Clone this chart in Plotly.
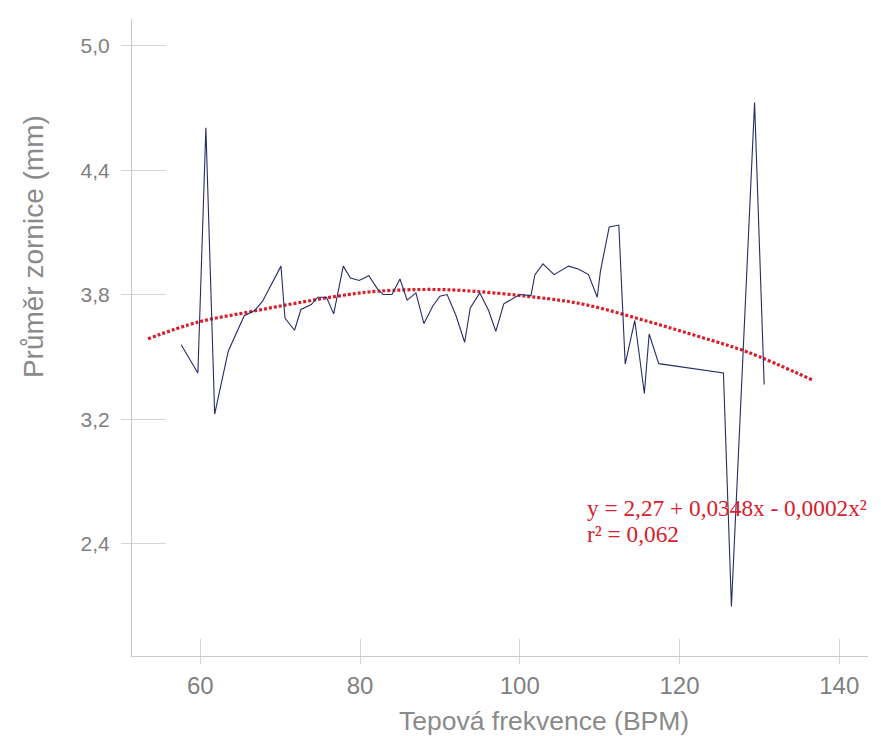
import plotly.graph_objects as go

# Heart rate (BPM) and mean pupil diameter (mm)
bpm = [57.6, 59.7, 60.7, 61.8, 63.5, 65.5, 66.8, 67.8, 70.1, 70.6, 71.8, 72.6, 73.9, 74.7,
       75.8, 76.7, 77.9, 78.8, 79.9, 81.1, 82.2, 82.9, 84.0, 85.0, 85.9, 87.0, 88.0, 89.1,
       90.0, 90.9, 92.0, 93.1, 93.8, 95.0, 96.1, 97.0, 98.0, 98.9, 100.0, 101.4, 101.9,
       102.9, 104.3, 106.1, 107.4, 108.6, 109.7, 110.1, 111.2, 112.4, 113.2, 114.4, 115.6,
       116.2, 117.4, 125.5, 126.5, 129.4, 130.6]
pupil = [3.560, 3.424, 4.606, 3.226, 3.529, 3.700, 3.725, 3.770, 3.939, 3.689, 3.630, 3.730,
         3.754, 3.789, 3.789, 3.709, 3.939, 3.882, 3.870, 3.893, 3.828, 3.802, 3.802, 3.877,
         3.775, 3.810, 3.662, 3.746, 3.794, 3.802, 3.702, 3.572, 3.738, 3.810, 3.725, 3.625,
         3.757, 3.778, 3.802, 3.797, 3.898, 3.950, 3.898, 3.939, 3.924, 3.898, 3.789, 3.915,
         4.128, 4.137, 3.467, 3.677, 3.325, 3.612, 3.469, 3.424, 2.299, 4.727, 3.368]

# Quadratic trend line
trend_x = [53.45, 59.7, 66.0, 72.2, 78.5, 82.2, 91.0, 103.5, 108.5, 116.0, 122.3, 128.5, 136.7]
trend_y = [3.589, 3.669, 3.717, 3.762, 3.802, 3.818, 3.825, 3.782, 3.751, 3.673, 3.601, 3.525, 3.389]

x_ticks = [60, 80, 100, 120, 140]
x_ticktext = ["60", "80", "100", "120", "140"]
y_ticks = [5.0, 4.4, 3.8, 3.2, 2.6]
y_ticktext = ["5,0", "4,4", "3,8", "3,2", "2,4"]

x_title = "Tepová frekvence (BPM)"
y_title = "Průměr zornice (mm)"
eq_line1 = "y = 2,27 + 0,0348x - 0,0002x²"
eq_line2 = "r² = 0,062"

x_range = [51.45, 143.6]
y_range = [2.06, 5.13]

AX = "#c9c9c9"
TICK = "#d6d6d6"
LBL = "#808080"
SANS = "Liberation Sans, Arial, sans-serif"
SERIF = "Liberation Serif, Times New Roman, serif"
RED = "#d8202b"

fig = go.Figure()
fig.add_trace(go.Scatter(x=trend_x, y=trend_y, mode="lines",
                         line=dict(color=RED, width=3.2, dash="3px,2px", shape="spline", smoothing=1.0),
                         showlegend=False, hoverinfo="skip"))
fig.add_trace(go.Scatter(x=bpm, y=pupil, mode="lines",
                         line=dict(color="#272b68", width=1.1),
                         showlegend=False))
# invisible trace on overlay axes (for the outer part of the crossing ticks)
fig.add_trace(go.Scatter(x=[None], y=[None], xaxis="x2", yaxis="y2",
                         showlegend=False, hoverinfo="skip"))

fig.update_layout(
    width=881, height=736,
    margin=dict(l=124, r=21, t=11, b=88),
    paper_bgcolor="white", plot_bgcolor="white",
    xaxis=dict(range=x_range, tickvals=x_ticks, ticktext=x_ticktext,
               showgrid=False, zeroline=False, showline=True, linecolor=AX, linewidth=1,
               ticks="inside", ticklen=17, tickcolor=TICK, tickwidth=1,
               tickfont=dict(family=SANS, size=24, color=LBL), ticklabelstandoff=8),
    yaxis=dict(range=y_range, tickvals=y_ticks, ticktext=y_ticktext,
               showgrid=False, zeroline=False, showline=True, linecolor=AX, linewidth=1,
               ticks="inside", ticklen=34, tickcolor=TICK, tickwidth=1,
               tickfont=dict(family=SANS, size=21, color=LBL), ticklabelstandoff=17),
    xaxis2=dict(range=x_range, overlaying="x", anchor="y2", side="bottom",
                tickvals=x_ticks, showticklabels=False, showgrid=False, zeroline=False,
                showline=False, ticks="outside", ticklen=7, tickcolor=TICK),
    yaxis2=dict(range=y_range, overlaying="y", anchor="x2", side="left",
                tickvals=y_ticks, showticklabels=False, showgrid=False, zeroline=False,
                showline=False, ticks="outside", ticklen=10, tickcolor=TICK),
    annotations=[
        dict(text=x_title, xref="paper", yref="paper", x=(536 - 124) / 736, y=(647.7 - 713) / 636.7,
             xanchor="center", yanchor="middle", showarrow=False,
             font=dict(family=SANS, size=26.5, color="#8a8a8a")),
        dict(text=y_title, xref="paper", yref="paper", x=(25 - 124) / 736, y=(647.7 - 239) / 636.7,
             xanchor="center", yanchor="middle", showarrow=False, textangle=-90,
             font=dict(family=SANS, size=28, color="#8a8a8a")),
        dict(text=eq_line1, xref="paper", yref="paper", x=(577 - 124) / 736, y=(647.7 - 500) / 636.7,
             xanchor="left", yanchor="middle", showarrow=False,
             font=dict(family=SERIF, size=23.3, color=RED)),
        dict(text=eq_line2, xref="paper", yref="paper", x=(577 - 124) / 736, y=(647.7 - 526) / 636.7,
             xanchor="left", yanchor="middle", showarrow=False,
             font=dict(family=SERIF, size=23.3, color=RED)),
    ],
)

fig.write_html("out.html")
